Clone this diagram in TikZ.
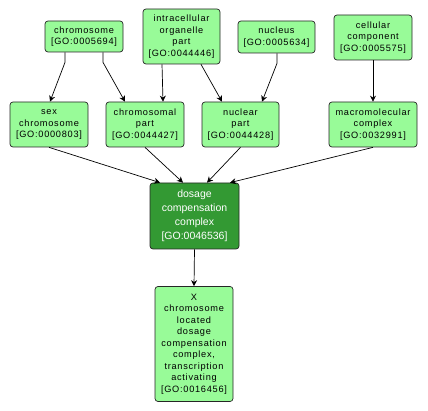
\documentclass[tikz,border=0pt]{standalone}
\usepackage{fontspec}
\setmainfont{Liberation Sans}
\newfontfamily\spaced[LetterSpace=8]{Liberation Sans}
\usetikzlibrary{arrows.meta,calc}
\definecolor{lgreen}{RGB}{152,251,152}
\definecolor{dgreen}{RGB}{51,153,51}
\begin{document}
\begin{tikzpicture}[x=1pt,y=-1pt,
  term/.style={draw=black!85, line width=0.7pt, rounded corners=3pt, fill=lgreen, align=center, inner sep=0pt,
     font=\spaced\fontsize{9.2}{11.5}\selectfont},
  focus/.style={draw=black!85, line width=0.7pt, rounded corners=3pt, fill=dgreen, text=white, align=center, inner sep=0pt,
     font=\fontsize{10.5}{14}\selectfont},
  arr/.style={-{Stealth[length=6pt,width=6pt]}, line width=0.7pt}]
\useasboundingbox (0,0) rectangle (428,411);
\fill[white] (0,0) rectangle (428,411);

\node[term, minimum width=78pt, minimum height=31pt] (chr) at (84,36.5) {chromosome\\{[}GO:0005694{]}};
\node[term, minimum width=77pt, minimum height=55pt] (iop) at (181.5,36.5) {intracellular\\organelle\\part\\{[}GO:0044446{]}};
\node[term, minimum width=77pt, minimum height=32pt] (nuc) at (276.5,37) {nucleus\\{[}GO:0005634{]}};
\node[term, minimum width=78pt, minimum height=45pt] (cc) at (373,37.5) {cellular\\component\\{[}GO:0005575{]}};

\node[term, minimum width=78pt, minimum height=45pt] (sex) at (49,124.5) {sex\\chromosome\\{[}GO:0000803{]}};
\node[term, minimum width=78pt, minimum height=45pt] (chp) at (145,124.5) {chromosomal\\part\\{[}GO:0044427{]}};
\node[term, minimum width=77pt, minimum height=45pt] (np) at (240.5,124.5) {nuclear\\part\\{[}GO:0044428{]}};
\node[term, minimum width=88pt, minimum height=45pt] (mc) at (373,124.5) {macromolecular\\complex\\{[}GO:0032991{]}};

\node[focus, minimum width=89pt, minimum height=66pt] (dcc) at (194.5,216) {dosage\\compensation\\complex\\{[}GO:0046536{]}};

\node[term, minimum width=78pt, minimum height=115pt] (x) at (194,344) {X\\chromosome\\located\\dosage\\compensation\\complex,\\transcription\\activating\\{[}GO:0016456{]}};

\draw[arr] ([xshift=-19pt]chr.south) -- ++(0,10) -- ([xshift=1pt]sex.north);
\draw[arr] ([xshift=19pt]chr.south) -- ++(0,10) -- ([xshift=-20pt]chp.north);
\draw[arr] ([xshift=-19.5pt]iop.south) -- ([xshift=18pt]chp.north);
\draw[arr] ([xshift=19.5pt]iop.south) -- ([xshift=-18.5pt]np.north);
\draw[arr] ([xshift=0.5pt]nuc.south) -- ++(0,10) -- ([xshift=21.5pt]np.north);
\draw[arr] (cc.south) -- (mc.north);

\draw[arr] (sex.south) -- ([xshift=-34.5pt]dcc.north);
\draw[arr] (chp.south) -- ([xshift=-11.5pt]dcc.north);
\draw[arr] (np.south) -- ([xshift=12.5pt]dcc.north);
\draw[arr] (mc.south) -- ([xshift=35.5pt]dcc.north);
\draw[arr] (dcc.south) -- (x.north);
\end{tikzpicture}
\end{document}
